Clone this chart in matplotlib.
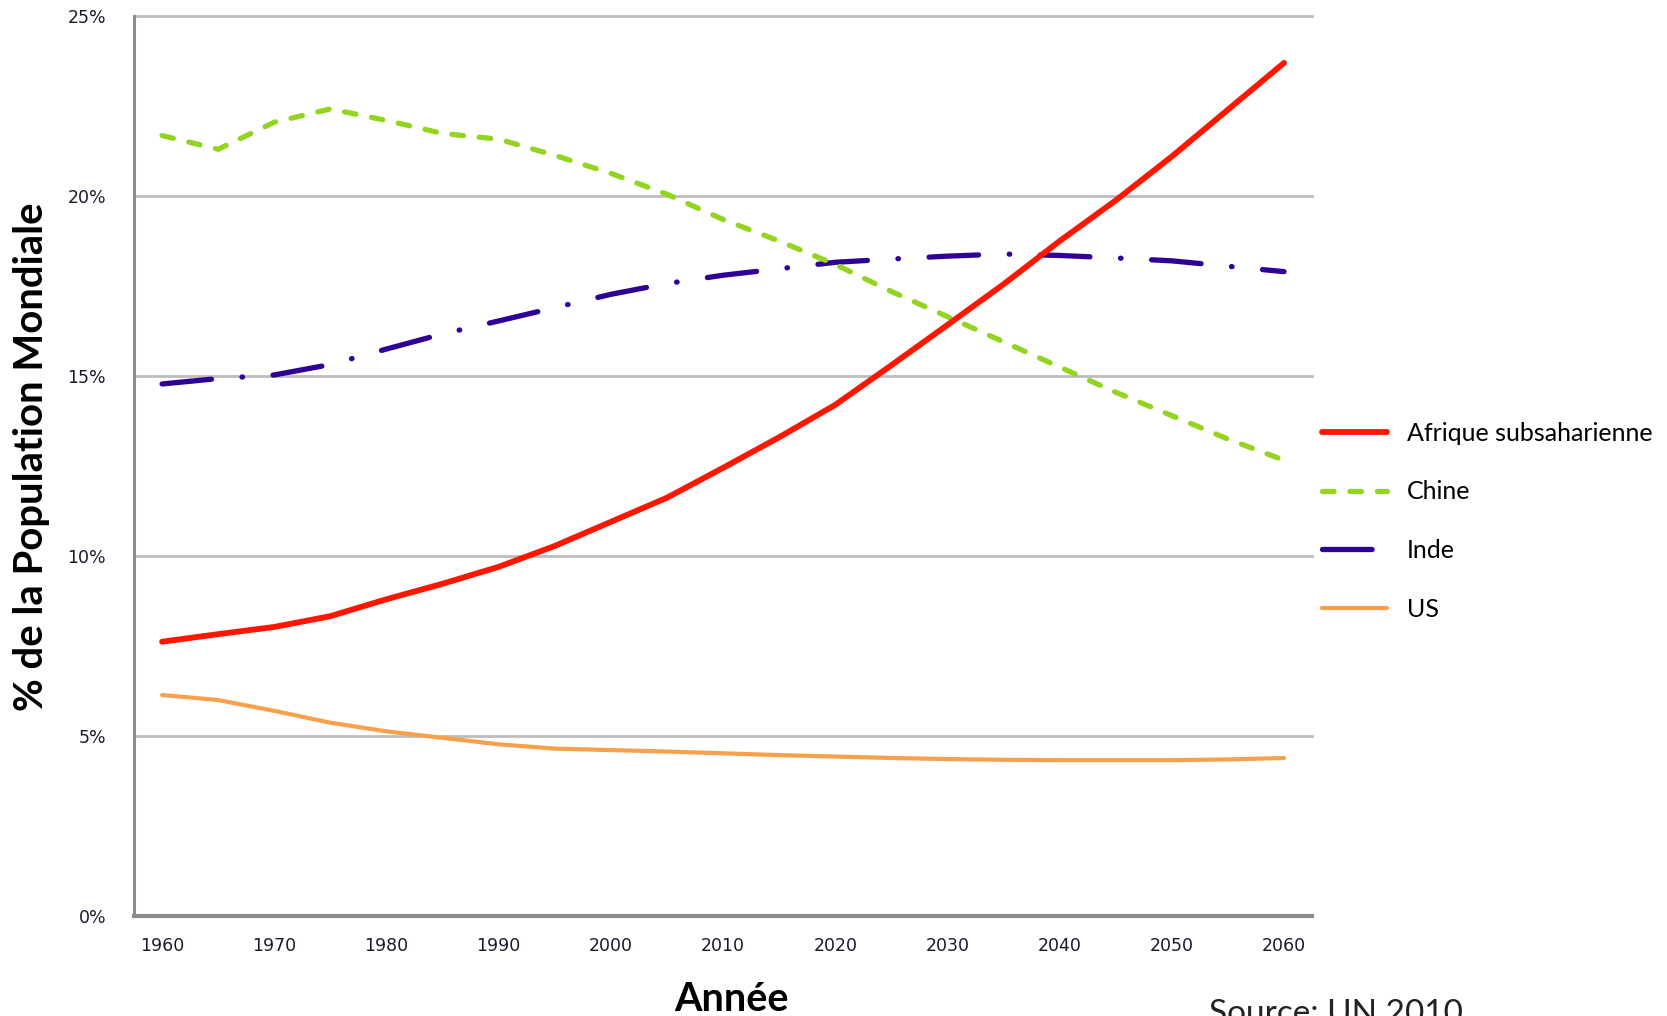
import matplotlib.pyplot as plt

# UN 2010 - share of world population (%), every 5 years
years = list(range(1960, 2061, 5))
afrique = [7.62, 7.83, 8.03, 8.33, 8.80, 9.23, 9.70, 10.28, 10.95, 11.62, 12.45,
           13.30, 14.20, 15.30, 16.42, 17.55, 18.75, 19.88, 21.10, 22.40, 23.70]
chine = [21.68, 21.30, 22.05, 22.42, 22.10, 21.74, 21.58, 21.13, 20.63, 20.05, 19.35,
         18.75, 18.10, 17.35, 16.65, 15.95, 15.25, 14.55, 13.90, 13.25, 12.66]
inde = [14.78, 14.93, 15.03, 15.32, 15.75, 16.17, 16.53, 16.90, 17.27, 17.57, 17.80,
        17.98, 18.16, 18.25, 18.33, 18.39, 18.35, 18.28, 18.20, 18.05, 17.90]
us = [6.14, 6.00, 5.70, 5.37, 5.13, 4.95, 4.77, 4.65, 4.61, 4.57, 4.52,
      4.47, 4.43, 4.39, 4.36, 4.34, 4.33, 4.33, 4.33, 4.35, 4.39]

year_ticks = list(range(1960, 2061, 10))
pct_ticks = [0, 5, 10, 15, 20, 25]

plt.rcParams['font.family'] = ['Lato', 'DejaVu Sans']

fig = plt.figure(figsize=(16.67, 10.16), dpi=100)
ax = fig.add_axes([0.0804, 0.0984, 0.7067, 0.8858])

# the four series
l_af, = ax.plot(years, afrique, color='#ff1500', lw=4.2, solid_capstyle='round',
                label='Afrique subsaharienne', zorder=5)
l_ch, = ax.plot(years, chine, color='#93d41e', lw=3.8, dashes=[2.2, 3.0],
                dash_capstyle='round', label='Chine', zorder=4)
l_in, = ax.plot(years, inde, color='#2f0096', lw=3.8, dashes=[9.4, 5.8, 0.1, 5.8],
                dash_capstyle='round', label='Inde', zorder=3)
l_us, = ax.plot(years, us, color='#f8a04c', lw=3, solid_capstyle='round',
                label='US', zorder=3)

ax.set_xlim(1957.5, 2062.5)
ax.set_ylim(0, 25)
ax.set_xticks(year_ticks)
ax.set_xticklabels([str(y) for y in year_ticks], family='DejaVu Sans', fontsize=12.5,
                   color='#1a1a2e')
ax.set_yticks(pct_ticks)
ax.set_yticklabels([f'{p}%' for p in pct_ticks], family='DejaVu Sans', fontsize=12.5,
                   color='#1a1a2e')
ax.tick_params(axis='both', length=0)
ax.tick_params(axis='y', pad=20)
ax.tick_params(axis='x', pad=15)

ax.yaxis.grid(True, color='#bdbdbd', lw=2)
for gl in ax.get_ygridlines():
    gl.set_clip_on(False)
ax.set_axisbelow(True)

for side in ['top', 'right']:
    ax.spines[side].set_visible(False)
ax.spines['left'].set_color('#8c8c8c')
ax.spines['left'].set_linewidth(2.2)
ax.spines['bottom'].set_color('#8c8c8c')
ax.spines['bottom'].set_linewidth(3)

fig.text(0.019, 0.55, '% de la Population Mondiale', rotation=90, ha='center',
         va='center', fontsize=28.8, fontweight='bold')
fig.text(0.439, 0.016, 'Année', ha='center', va='center', fontsize=28.5,
         fontweight='bold')
# source note sits at the bottom edge, partly cut like in the original slide
fig.text(0.7255, 1 - 999 / 1016, 'Source: UN 2010', ha='left', va='top',
         fontsize=24, color='#222222')

fig.legend(handles=[l_af, l_ch, l_in, l_us], loc='center left',
           bbox_to_anchor=(0.793, 0.487), frameon=False, fontsize=18,
           handlelength=2.6, handletextpad=0.8, labelspacing=1.43,
           borderpad=0, borderaxespad=0)

fig.savefig('out.png', dpi=100)
